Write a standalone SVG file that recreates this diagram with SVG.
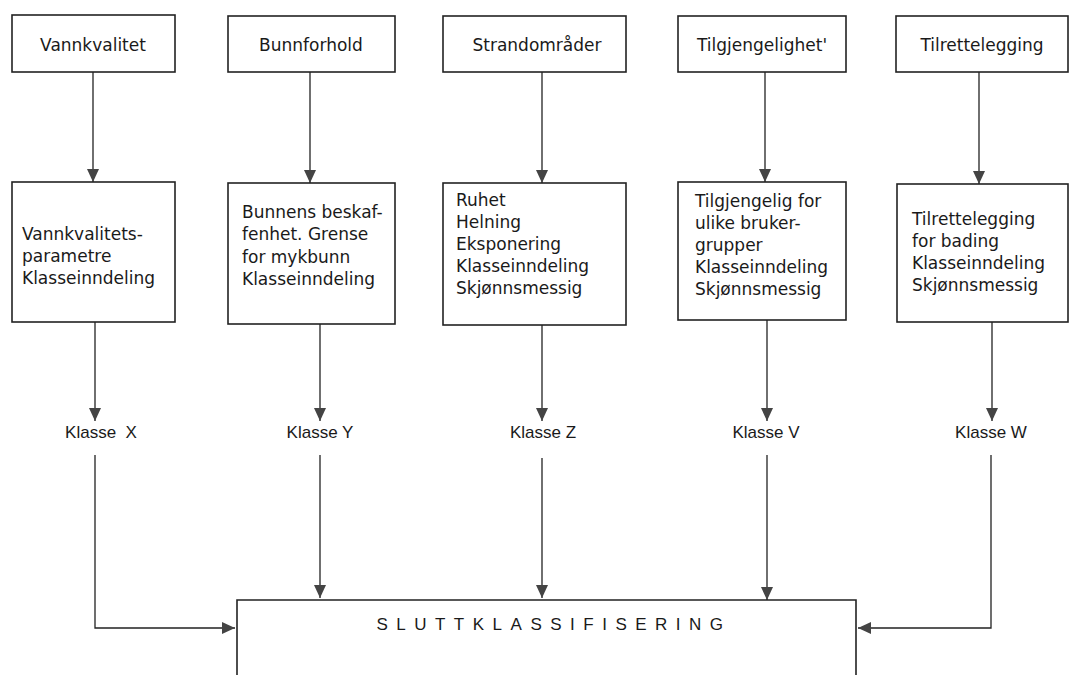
<svg xmlns="http://www.w3.org/2000/svg" width="1070" height="675" viewBox="0 0 1070 675">
<style>
.box{fill:#fff;stroke:#222;stroke-width:1.6}
.ln{fill:none;stroke:#222;stroke-width:1.3}
.t{font-family:"DejaVu Sans",sans-serif;font-size:17px;fill:#1a1a1a}
.k{font-family:"Liberation Sans",Arial,sans-serif;font-size:17px;fill:#1a1a1a}
.s{font-family:"Liberation Sans",Arial,sans-serif;font-size:17px;fill:#1a1a1a;letter-spacing:8.5px}
</style>
<defs>
<marker id="ah" viewBox="0 0 13 12" refX="13" refY="6" markerWidth="13" markerHeight="12" markerUnits="userSpaceOnUse" orient="auto">
<path d="M0,0 L13,6 L0,12 z" fill="#444"/>
</marker>
</defs>
<rect width="1070" height="675" fill="#fff"/>
<g id="connectors">
<path class="ln" d="M93,72 V182" marker-end="url(#ah)"/>
<path class="ln" d="M310,72 V183" marker-end="url(#ah)"/>
<path class="ln" d="M542,72 V183" marker-end="url(#ah)"/>
<path class="ln" d="M765,72 V182" marker-end="url(#ah)"/>
<path class="ln" d="M979,72 V184" marker-end="url(#ah)"/>
<path class="ln" d="M95,322 V421" marker-end="url(#ah)"/>
<path class="ln" d="M320,324 V421" marker-end="url(#ah)"/>
<path class="ln" d="M542,325 V421" marker-end="url(#ah)"/>
<path class="ln" d="M767,320 V421" marker-end="url(#ah)"/>
<path class="ln" d="M992,322 V421" marker-end="url(#ah)"/>
<path class="ln" d="M95,455 V628 H235" marker-end="url(#ah)"/>
<path class="ln" d="M320,455 V598" marker-end="url(#ah)"/>
<path class="ln" d="M542,458 V598" marker-end="url(#ah)"/>
<path class="ln" d="M767,455 V600" marker-end="url(#ah)"/>
<path class="ln" d="M991,455 V628 H858" marker-end="url(#ah)"/>
</g>
<g id="n-vannkvalitet"><rect class="box" x="12" y="15" width="163" height="57"/><text class="t" x="93" y="51" text-anchor="middle">Vannkvalitet</text></g>
<g id="n-bunnforhold"><rect class="box" x="228" y="16" width="167" height="56"/><text class="t" x="311" y="51" text-anchor="middle">Bunnforhold</text></g>
<g id="n-strandomrader"><rect class="box" x="443" y="16" width="183" height="56"/><text class="t" x="537" y="51" text-anchor="middle">Strandområder</text></g>
<g id="n-tilgjengelighet"><rect class="box" x="678" y="16" width="168" height="56"/><text class="t" x="762" y="51" text-anchor="middle">Tilgjengelighet'</text></g>
<g id="n-tilrettelegging"><rect class="box" x="896" y="16" width="172" height="56"/><text class="t" x="982" y="51" text-anchor="middle">Tilrettelegging</text></g>
<g id="m-vannkvalitet"><rect class="box" x="12" y="182" width="163" height="140"/>
<text class="t" x="22" y="240">Vannkvalitets-</text><text class="t" x="22" y="262">parametre</text><text class="t" x="22" y="284">Klasseinndeling</text></g>
<g id="m-bunnforhold"><rect class="box" x="228" y="183" width="167" height="141"/>
<text class="t" x="242" y="218">Bunnens beskaf-</text><text class="t" x="242" y="240">fenhet. Grense</text><text class="t" x="242" y="263">for mykbunn</text><text class="t" x="242" y="285">Klasseinndeling</text></g>
<g id="m-strandomrader"><rect class="box" x="443" y="183" width="183" height="142"/>
<text class="t" x="456" y="206">Ruhet</text><text class="t" x="456" y="228">Helning</text><text class="t" x="456" y="250">Eksponering</text><text class="t" x="456" y="272">Klasseinndeling</text><text class="t" x="456" y="294">Skjønnsmessig</text></g>
<g id="m-tilgjengelighet"><rect class="box" x="678" y="182" width="168" height="138"/>
<text class="t" x="695" y="207">Tilgjengelig for</text><text class="t" x="695" y="229">ulike bruker-</text><text class="t" x="695" y="251">grupper</text><text class="t" x="695" y="273">Klasseinndeling</text><text class="t" x="695" y="295">Skjønnsmessig</text></g>
<g id="m-tilrettelegging"><rect class="box" x="897" y="184" width="171" height="138"/>
<text class="t" x="912" y="225">Tilrettelegging</text><text class="t" x="912" y="247">for bading</text><text class="t" x="912" y="269">Klasseinndeling</text><text class="t" x="912" y="291">Skjønnsmessig</text></g>
<g id="k-x"><text class="k" x="101" y="438" text-anchor="middle" xml:space="preserve" style="white-space:pre">Klasse  X</text></g>
<g id="k-y"><text class="k" x="320" y="438" text-anchor="middle">Klasse Y</text></g>
<g id="k-z"><text class="k" x="543" y="438" text-anchor="middle">Klasse Z</text></g>
<g id="k-v"><text class="k" x="766" y="438" text-anchor="middle">Klasse V</text></g>
<g id="k-w"><text class="k" x="991" y="438" text-anchor="middle">Klasse W</text></g>
<g id="sluttklassifisering"><path class="box" d="M237,676 V600 H856 V676"/>
<text class="s" x="554" y="630" text-anchor="middle">SLUTTKLASSIFISERING</text></g>
</svg>
